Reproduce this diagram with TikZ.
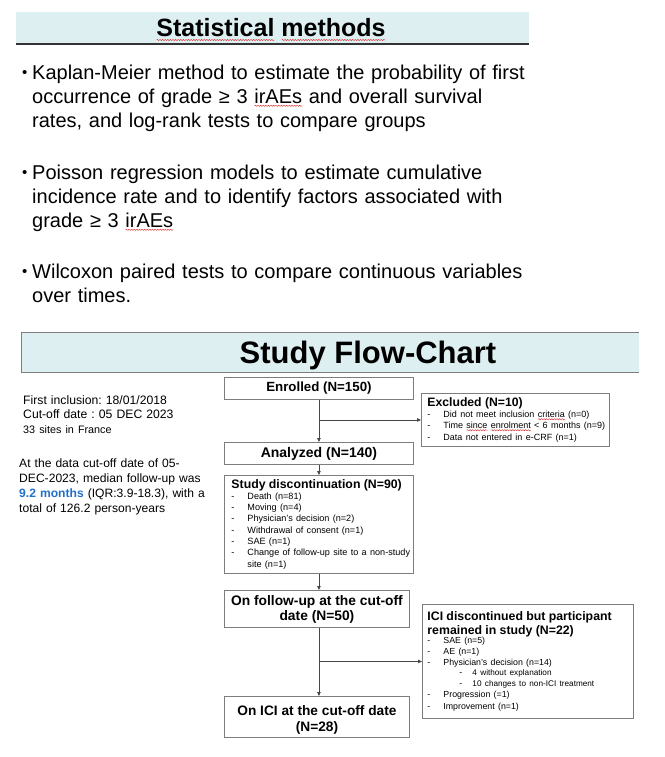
\documentclass[tikz,border=0pt]{standalone}
\usepackage{fontspec}
\setmainfont{Liberation Sans}
\usetikzlibrary{arrows.meta,decorations.pathmorphing}
\frenchspacing

\definecolor{bandblue}{RGB}{222,239,241}
\definecolor{boxgray}{RGB}{125,125,125}
\definecolor{linegray}{RGB}{70,70,70}
\definecolor{monthblue}{RGB}{35,112,200}
\definecolor{spellred}{RGB}{225,45,45}

% red squiggle under a word
\newcommand\spellwave[2][2.6pt]{\setbox0\hbox{#2}\rlap{\tikz[baseline=0pt]{\draw[spellred, line width=0.45pt,
    decorate, decoration={snake, amplitude=0.6pt, segment length=2.6pt}] (0pt,-#1) -- (\the\wd0,-#1);}}\box0\relax}

% list lines inside the flow boxes
\newcommand\flowdash[1]{\par\noindent\makebox[16pt][l]{-}\mbox{#1}}
\newcommand\flowcont[1]{\par\noindent\hspace*{16pt}\mbox{#1}}
\newcommand\flowsub[1]{\par\noindent\hspace*{32pt}\makebox[13pt][l]{-}\mbox{\fontsize{8.2}{10.8}\selectfont #1}}
\newcommand\bulletmark{\makebox[10pt][l]{\fontsize{15}{15}\selectfont\raisebox{2pt}{•}}}

\tikzset{
  flowbox/.style={draw=boxgray, line width=0.9pt, fill=white, anchor=north west, inner xsep=0pt, inner ysep=0pt},
  flowtitle/.style={flowbox, align=center, font=\fontsize{14}{15.5}\selectfont\bfseries},
  flowlist/.style={flowbox},
  flowline/.style={draw=linegray, line width=0.8pt},
  flowarrow/.style={flowline, -{Triangle[length=4pt,width=3.5pt]}},
  sidetext/.style={anchor=base west, inner sep=0pt, align=left, text width=220pt},
  bullettext/.style={anchor=base west, inner sep=0pt, align=left, text width=560pt, font=\fontsize{20}{24}\selectfont},
}

\begin{document}
\begin{tikzpicture}[x=1pt, y=-1pt]
    \useasboundingbox (0,0) rectangle (664,757);

    % statistical methods
    \fill[bandblue] (16,12) rectangle (529,44);
    \draw[black!80, line width=1.2pt] (16,44) -- (529,44);
    \node[anchor=base, inner sep=0pt, font=\fontsize{25}{30}\selectfont\bfseries] (stattitle) at (271,37)
        {\spellwave[3pt]{Statistical} \spellwave[3pt]{methods}};

    \node[bullettext] (kaplan) at (22,79.2) {\bulletmark Kaplan-Meier method to estimate the probability of first\\
        \hspace*{10pt}occurrence of grade ≥ 3 \spellwave{irAEs} and overall survival\\
        \hspace*{10pt}rates, and log-rank tests to compare groups};
    \node[bullettext] (poisson) at (22,179.2) {\bulletmark Poisson regression models to estimate cumulative\\
        \hspace*{10pt}incidence rate and to identify factors associated with\\
        \hspace*{10pt}grade ≥ 3 \spellwave{irAEs}};
    \node[bullettext] (wilcoxon) at (22,278.2) {\bulletmark Wilcoxon paired tests to compare continuous variables\\
        \hspace*{10pt}over times.};

    % flow chart
    \fill[bandblue] (21,332) rectangle (639,372);
    \draw[boxgray, line width=1pt] (639,332) -- (21,332) -- (21,372) -- (639,372);
    \node[anchor=base, inner sep=0pt, font=\fontsize{31}{36}\selectfont\bfseries] (flowhead) at (368,363.5) {Study Flow-Chart};

    \node[sidetext, font=\fontsize{12.2}{14.5}\selectfont] (dates) at (23,404.4) {First inclusion: 18/01/2018\\
        Cut-off date : 05 DEC 2023\\
        {\fontsize{10.8}{14}\selectfont 33 sites in France}};
    \node[sidetext, font=\fontsize{12.1}{15}\selectfont] (followup) at (19,467) {At the data cut-off date of 05-\\
        DEC-2023, median follow-up was\\
        {\color{monthblue}\bfseries 9.2 months} (IQR:3.9-18.3), with a\\
        total of 126.2 person-years};

    \node[flowtitle, minimum width=189pt, minimum height=22pt, font=\fontsize{13.3}{15}\selectfont\bfseries] (enrol) at (224,377) {Enrolled (N=150)};
    \node[flowlist, inner xsep=6pt, text width=176pt, minimum height=53pt] (excl) at (421,393) {%
        {\fontsize{12.2}{14}\selectfont\bfseries Excluded (N=10)\par}\fontsize{9}{11}\selectfont
        \flowdash{Did not meet inclusion \spellwave[1.8pt]{criteria} (n=0)}
        \flowdash{Time \spellwave[1.8pt]{since} \spellwave[1.8pt]{enrolment} < 6 months (n=9)}
        \flowdash{Data not entered in e-CRF (n=1)}};
    \node[flowtitle, minimum width=189pt, minimum height=22pt] (anal) at (224,442) {Analyzed (N=140)};
    \node[flowlist, inner xsep=7pt, text width=175pt, minimum height=98pt] (disc) at (224,475) {%
        {\fontsize{12.3}{14}\selectfont\bfseries Study discontinuation (N=90)\par}\fontsize{9.1}{11.3}\selectfont
        \flowdash{Death (n=81)}
        \flowdash{Moving (n=4)}
        \flowdash{Physician's decision (n=2)}
        \flowdash{Withdrawal of consent (n=1)}
        \flowdash{SAE (n=1)}
        \flowdash{Change of follow-up site to a non-study}
        \flowcont{site (n=1)}};
    \node[flowtitle, minimum width=185pt, minimum height=37pt, font=\fontsize{13.8}{15}\selectfont\bfseries] (fup) at (224,590) {On follow-up at the cut-off\\date (N=50)};
    \node[flowtitle, minimum width=185pt, minimum height=41pt, font=\fontsize{13.7}{16}\selectfont\bfseries] (onici) at (224,696) {\rule{0pt}{15pt}On ICI at the cut-off date\\(N=28)};
    \node[flowlist, inner xsep=5pt, text width=201pt, minimum height=114pt] (icidisc) at (422,604) {%
        {\fontsize{12.3}{14}\selectfont\bfseries ICI discontinued but participant\par remained in study (N=22)\par}%
        \vspace{-2pt}\fontsize{8.8}{10.8}\selectfont
        \flowdash{SAE (n=5)}
        \flowdash{AE (n=1)}
        \flowdash{Physician's decision (n=14)}
        \flowsub{4 without explanation}
        \flowsub{10 changes to non-ICI treatment}
        \flowdash{Progression (=1)}
        \flowdash{Improvement (n=1)}};

    \draw[flowarrow] (enrol.south) -- (anal.north);
    \draw[flowarrow] (enrol.south |- excl.west) -- (excl.west);
    \draw[flowarrow] (anal.south) -- (disc.north);
    \draw[flowarrow] (disc.south) -- (disc.south |- fup.north);
    \draw[flowarrow] (disc.south |- fup.south) -- (disc.south |- onici.north);
    \draw[flowarrow] (disc.south |- icidisc.west) -- (icidisc.west);
\end{tikzpicture}
\end{document}
